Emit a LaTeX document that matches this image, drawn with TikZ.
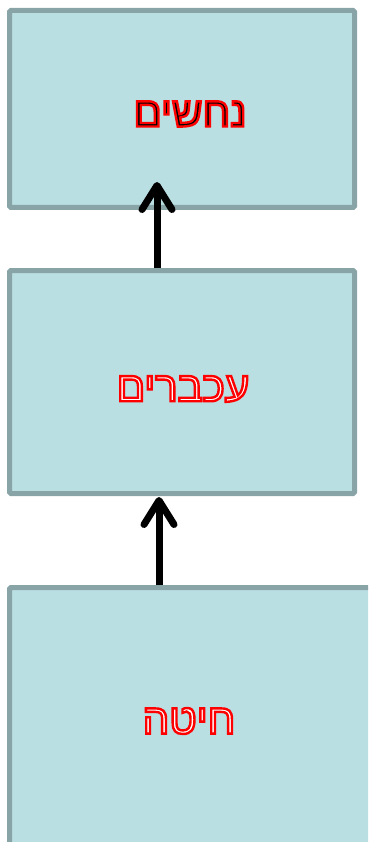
\documentclass[tikz,border=0pt]{standalone}
\usepackage{fontspec}
\usetikzlibrary{arrows.meta}
\TeXXeTstate=1
\newfontfamily\hebfont[Script=Hebrew]{Liberation Sans}
\definecolor{boxfill}{HTML}{BADFE2}
\definecolor{boxline}{HTML}{88A4A6}
\newcommand{\hebword}[2]{{\color{#1}\special{pdf:literal direct 2 Tr 2.4 w 1 0 0 RG}\beginR #2\endR\special{pdf:literal direct 0 Tr}}}
\tikzset{
  level/.style={draw=boxline, fill=boxfill, line width=5pt, rounded corners=1.5pt, inner sep=0pt},
  word/.style={font=\hebfont\fontsize{42}{46}\selectfont, inner sep=0pt},
  eats/.style={line width=7pt, -{Straight Barb[length=24pt, width=30pt, round]}}
}
\begin{document}
\begin{tikzpicture}[x=1pt, y=-1pt]
            \useasboundingbox (0,0) rectangle (368,842);
            \clip (0,0) rectangle (368,842);
            
            \node (snakes) at (182,109) [level, minimum width=345pt, minimum height=197pt] {};
            \node (mice) at (182,382) [level, minimum width=345pt, minimum height=223pt] {};
            \node (wheat) at (195,724) [level, minimum width=371pt, minimum height=273pt] {};
            
            \node (snakes_label) at (190,114) [word] {\hebword{black}{נחשים}};
            \node (mice_label) at (183,389) [word] {\hebword{white}{עכברים}};
            \node (wheat_label) at (189,721) [word] {\hebword{white}{חיטה}};
            
            \coordinate (snakes_tip) at (157,182);
            \coordinate (mice_tip) at (159,497);
            
            \draw[eats] (mice.north -| snakes_tip) -- (snakes_tip);
            \draw[eats] (wheat.north -| mice_tip) -- (mice_tip);
        \end{tikzpicture}
\end{document}
